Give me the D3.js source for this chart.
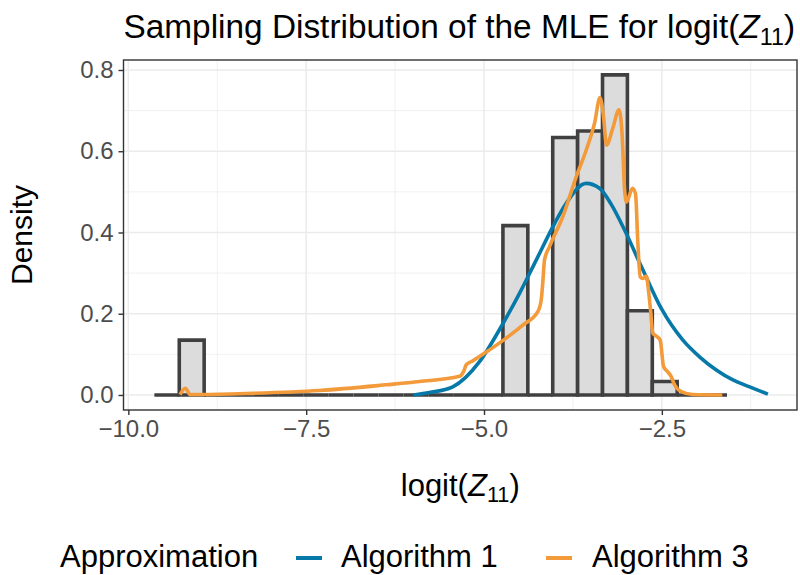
<!DOCTYPE html>
<html>
<head>
<meta charset="utf-8">
<script src="https://cdn.jsdelivr.net/npm/d3@7"></script>
<style>
  html, body { margin: 0; padding: 0; background: #fff; }
  svg { display: block; font-family: "Liberation Sans", Arial, Helvetica, sans-serif; }
</style>
</head>
<body>
<svg id="chart" width="800" height="575"></svg>
<script>
// ---------------- data ----------------
const binEdges = [-9.634, -9.284, -8.934, -8.584, -8.234, -7.884, -7.534, -7.184, -6.834, -6.484,
  -6.134, -5.784, -5.434, -5.084, -4.734, -4.384, -4.034, -3.684, -3.334, -2.984,
  -2.634, -2.284, -1.934, -1.584];
const binDensity = [0, 0.135, 0, 0, 0, 0, 0, 0, 0, 0, 0, 0, 0, 0, 0.417, 0, 0.634, 0.650, 0.788, 0.2075, 0.033, 0, 0];

const alg1X = [-5.992, -5.767, -5.439, -5.063, -4.759, -4.501, -4.266, -4.033, -3.844, -3.563,
  -3.376, -3.207, -3.024, -2.767, -2.508, -2.204, -1.970, -1.735, -1.501, -1.266, -1.009];
const alg1Y = [0.000, 0.006, 0.020, 0.082, 0.168, 0.250, 0.332, 0.414, 0.472, 0.521,
  0.509, 0.468, 0.406, 0.308, 0.213, 0.135, 0.094, 0.0615, 0.037, 0.020, 0.002];

const alg3X = [-9.273, -9.198, -9.132, -9.001, -8.252, -7.314, -6.376, -5.907, -5.345, -5.289,
  -5.247, -5.158, -4.923, -4.688, -4.455, -4.244, -4.196, -4.171, -4.150, -4.079,
  -3.892, -3.704, -3.563, -3.446, -3.369, -3.320, -3.278, -3.189, -3.102, -3.057,
  -3.024, -2.996, -2.912, -2.870, -2.837, -2.804, -2.767, -2.719, -2.683, -2.659,
  -2.627, -2.571, -2.523, -2.476, -2.416, -2.368, -2.322, -2.227, -2.064, -1.650];
const alg3Y = [0.001, 0.0165, 0.001, 0.001, 0.004, 0.011, 0.025, 0.033, 0.046, 0.057,
  0.075, 0.084, 0.111, 0.140, 0.172, 0.205, 0.234, 0.283, 0.332, 0.365,
  0.439, 0.537, 0.603, 0.669, 0.732, 0.685, 0.615, 0.657, 0.702, 0.636,
  0.505, 0.475, 0.509, 0.495, 0.373, 0.291, 0.287, 0.293, 0.250, 0.209,
  0.152, 0.144, 0.135, 0.070, 0.057, 0.045, 0.025, 0.008, 0.001, 0.000];

const xTicks = [-10, -7.5, -5, -2.5];
const xMinor = [-8.75, -6.25, -3.75, -1.25];
const yTicks = [0, 0.2, 0.4, 0.6, 0.8];
const yMinor = [0.1, 0.3, 0.5, 0.7];
const seriesNames = ["Algorithm 1", "Algorithm 3"];
const seriesColors = ["#0779A8", "#F39A3A"];

// ---------------- layout ----------------
const svg = d3.select("#chart");
const panel = { left: 123.5, right: 797, top: 60, bottom: 410 };
const x = d3.scaleLinear().domain([-10.068, -0.6]).range([panel.left, panel.right]);
const y = d3.scaleLinear().domain([-0.037, 0.8246]).range([panel.bottom, panel.top]);

svg.append("rect").attr("width", 800).attr("height", 575).attr("fill", "#fff");

// grid
const grid = svg.append("g");
grid.selectAll(".xmin").data(xMinor).join("line")
  .attr("x1", d => x(d)).attr("x2", d => x(d)).attr("y1", panel.top).attr("y2", panel.bottom)
  .attr("stroke", "#EBEBEB").attr("stroke-width", 0.75);
grid.selectAll(".ymin").data(yMinor).join("line")
  .attr("y1", d => y(d)).attr("y2", d => y(d)).attr("x1", panel.left).attr("x2", panel.right)
  .attr("stroke", "#EBEBEB").attr("stroke-width", 0.75);
grid.selectAll(".xmaj").data(xTicks).join("line")
  .attr("x1", d => x(d)).attr("x2", d => x(d)).attr("y1", panel.top).attr("y2", panel.bottom)
  .attr("stroke", "#EBEBEB").attr("stroke-width", 1.5);
grid.selectAll(".ymaj").data(yTicks).join("line")
  .attr("y1", d => y(d)).attr("y2", d => y(d)).attr("x1", panel.left).attr("x2", panel.right)
  .attr("stroke", "#EBEBEB").attr("stroke-width", 1.5);

// histogram
const bins = binDensity.map((d, i) => ({ x0: binEdges[i], x1: binEdges[i + 1], d }));
svg.append("g").selectAll("path").data(bins).join("path")
  .attr("d", b => {
    const p = d3.path();
    p.moveTo(x(b.x0), y(0)); p.lineTo(x(b.x0), y(b.d)); p.lineTo(x(b.x1), y(b.d)); p.lineTo(x(b.x1), y(0)); p.closePath();
    return p.toString();
  })
  .attr("fill", "#DCDCDC").attr("stroke", "#404040").attr("stroke-width", 3.6)
  .attr("stroke-linejoin", "miter");

// curves
const line = d3.line().x(d => x(d[0])).y(d => y(d[1])).curve(d3.curveMonotoneX);
const series = [alg1X.map((v, i) => [v, alg1Y[i]]), alg3X.map((v, i) => [v, alg3Y[i]])];
svg.append("g").selectAll("path").data(series).join("path")
  .attr("d", line).attr("fill", "none")
  .attr("stroke", (d, i) => seriesColors[i]).attr("stroke-width", 3.6)
  .attr("stroke-linejoin", "round");

// panel border
svg.append("rect").attr("x", panel.left).attr("y", panel.top)
  .attr("width", panel.right - panel.left).attr("height", panel.bottom - panel.top)
  .attr("fill", "none").attr("stroke", "#333333").attr("stroke-width", 1.4);

// axes
const fmt = d => (d < 0 ? "\u2212" : "") + Math.abs(d).toFixed(1);
const xAxis = svg.append("g").attr("transform", `translate(0,${panel.bottom})`)
  .call(d3.axisBottom(x).tickValues(xTicks).tickFormat(fmt).tickSize(5).tickPadding(5));
const yAxis = svg.append("g").attr("transform", `translate(${panel.left},0)`)
  .call(d3.axisLeft(y).tickValues(yTicks).tickFormat(d => d.toFixed(1)).tickSize(5).tickPadding(5));
[xAxis, yAxis].forEach(a => {
  a.select(".domain").remove();
  a.selectAll(".tick line").attr("stroke", "#333333").attr("stroke-width", 1.4);
  a.selectAll(".tick text").attr("fill", "#4D4D4D").attr("font-size", 24)
    .attr("font-family", "Liberation Sans, Arial, sans-serif");
});

// fit a text element's font size so that its width matches a target
function fitWidth(sel, target, base) {
  const w = sel.node().getBBox().width;
  const s = base * target / w;
  sel.attr("font-size", s);
  sel.selectAll("tspan.sub").attr("font-size", s * 0.7);
  return s;
}

// titles
const title = svg.append("text").attr("x", panel.left).attr("y", 38)
  .attr("font-size", 33).attr("fill", "#000");
title.append("tspan").text("Sampling Distribution of the MLE for logit(");
title.append("tspan").attr("font-style", "italic").text("Z");
title.append("tspan").attr("class", "sub").attr("font-size", 23).attr("dy", 7).text("11");
title.append("tspan").attr("dy", -7).text(")");
fitWidth(title, 672, 33);

const xt = svg.append("text").attr("x", (panel.left + panel.right) / 2).attr("y", 496)
  .attr("text-anchor", "middle").attr("font-size", 31).attr("fill", "#000");
xt.append("tspan").text("logit(");
xt.append("tspan").attr("font-style", "italic").text("Z");
xt.append("tspan").attr("class", "sub").attr("font-size", 21.7).attr("dy", 6).text("11");
xt.append("tspan").attr("dy", -6).text(")");

svg.append("text").attr("transform", `translate(32,${(panel.top + panel.bottom) / 2}) rotate(-90)`)
  .attr("text-anchor", "middle").attr("font-size", 30).attr("fill", "#000").text("Density");

// legend
const lg = svg.append("g");
lg.append("text").attr("x", 60).attr("y", 567).attr("font-size", 31).attr("fill", "#000").text("Approximation");
const keyX = [296, 546];
const labX = [341, 592];
seriesNames.forEach((name, i) => {
  lg.append("line").attr("x1", keyX[i]).attr("x2", keyX[i] + 26).attr("y1", 558).attr("y2", 558)
    .attr("stroke", seriesColors[i]).attr("stroke-width", 4);
  lg.append("text").attr("x", labX[i]).attr("y", 567).attr("font-size", 31).attr("fill", "#000").text(name);
});
</script>
</body>
</html>
